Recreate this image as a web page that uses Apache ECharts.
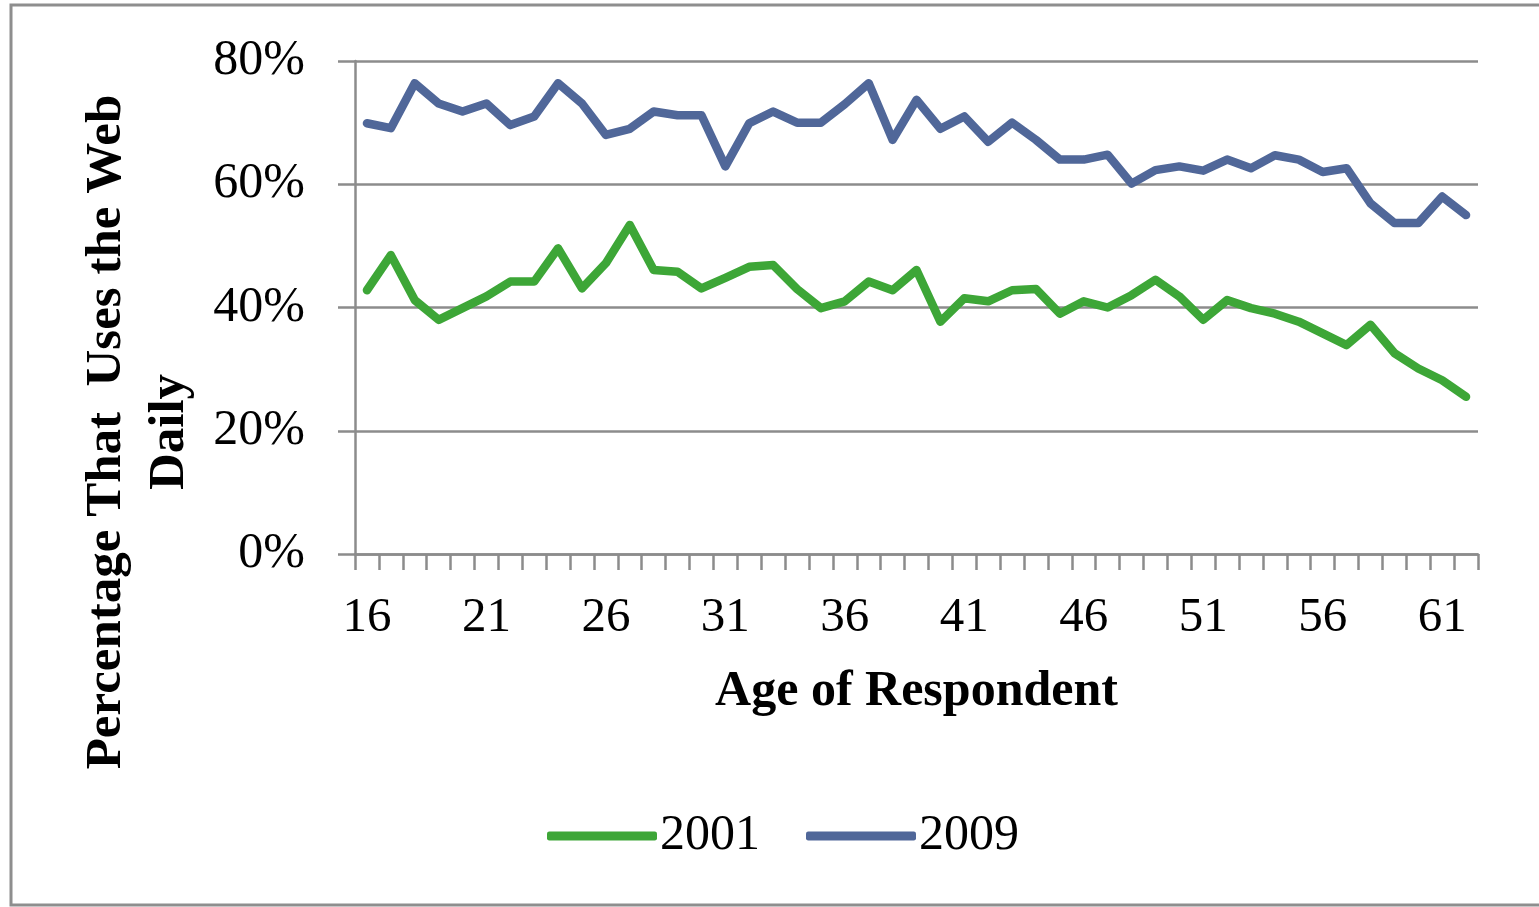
<!DOCTYPE html>
<html>
<head>
<meta charset="utf-8">
<script src="https://cdn.jsdelivr.net/npm/echarts@6/dist/echarts.min.js"></script>
<style>
    html, body { margin: 0; padding: 0; background: #fff; }
    #chart { width: 1539px; height: 907px; }
</style>
</head>
<body>
<div id="chart"></div>
<script>
// ages of respondents (x categories)
var ages = [];
for (var a = 16; a <= 62; a++) {
    ages.push(String(a));
}

// share that uses the web daily, in %
var data2001 = [42.8, 48.5, 41.2, 38, 39.9, 41.8, 44.2, 44.2, 49.6, 43.1,
    47.2, 53.4, 46.1, 45.8, 43.1, 44.8, 46.6, 46.9, 43, 39.9,
    41, 44.2, 42.8, 46.1, 37.7, 41.5, 41, 42.8, 43, 39,
    41, 40, 42, 44.5, 41.8, 38, 41.2, 39.9, 39, 37.7,
    35.8, 33.9, 37.2, 32.6, 30.1, 28.2, 25.5];

var data2009 = [69.9, 69.1, 76.4, 73.1, 71.8, 73.1, 69.6, 71, 76.4, 73.1,
    68, 69, 71.8, 71.2, 71.2, 62.9, 69.9, 71.8, 70, 70,
    73, 76.4, 67.2, 73.7, 69, 71, 66.9, 70, 67.2, 64,
    64, 64.8, 60.1, 62.3, 62.9, 62.2, 64, 62.6, 64.7, 64,
    62, 62.6, 56.9, 53.7, 53.7, 58, 55];

var yTicks = [0, 20, 40, 60, 80];

var font = '"Liberation Serif", "Times New Roman", serif';
var gray = '#8c8c8c';

var myChart = echarts.init(document.getElementById('chart'));

var option = {
    backgroundColor: '#fff',
    animation: false,
    color: ['#3da637', '#506799'],
    textStyle: {
        fontFamily: font,
        color: '#000'
    },
    grid: {
        left: 355,
        right: 61,
        top: 61,
        height: 493,
        containLabel: false
    },
    legend: {
        left: 542,
        top: 806,
        icon: 'roundRect',
        itemWidth: 110,
        itemHeight: 9,
        itemGap: 46,
        textStyle: {
            fontFamily: font,
            fontSize: 50,
            color: '#000',
            padding: [0, 0, 0, -2]
        },
        data: ['2001', '2009']
    },
    graphic: [{
        type: 'rect',
        shape: { x: 11, y: 5, width: 1540, height: 900 },
        style: { fill: 'none', stroke: '#8e8e8e', lineWidth: 3 },
        silent: true
    }, {
        type: 'text',
        x: 138,
        y: 432,
        rotation: Math.PI / 2,
        style: {
            text: 'Percentage That  Uses the Web\nDaily',
            font: 'bold 51px ' + font,
            fill: '#000',
            align: 'center',
            verticalAlign: 'middle',
            lineHeight: 63
        }
    }],
    xAxis: {
        type: 'category',
        boundaryGap: true,
        data: ages,
        name: 'Age of Respondent',
        nameLocation: 'middle',
        nameGap: 113,
        nameTextStyle: {
            fontFamily: font,
            fontSize: 50,
            fontWeight: 'bold',
            color: '#000'
        },
        axisLine: {
            lineStyle: { color: gray, width: 2.5 }
        },
        axisTick: {
            show: true,
            interval: 0,
            length: 16,
            lineStyle: { color: gray, width: 2.5 }
        },
        axisLabel: {
            interval: 4,
            margin: 40,
            fontFamily: font,
            fontSize: 49,
            color: '#000'
        },
        splitLine: { show: false }
    },
    yAxis: {
        type: 'value',
        min: yTicks[0],
        max: yTicks[yTicks.length - 1],
        interval: 20,
        axisLine: {
            show: true,
            lineStyle: { color: gray, width: 2.5 }
        },
        axisTick: {
            show: true,
            length: 17,
            lineStyle: { color: gray, width: 2.5 }
        },
        axisLabel: {
            margin: 50,
            fontFamily: font,
            fontSize: 50,
            color: '#000',
            formatter: '{value}%'
        },
        splitLine: {
            show: true,
            lineStyle: { color: gray, width: 2.5 }
        }
    },
    series: [{
        name: '2001',
        type: 'line',
        symbol: 'none',
        lineStyle: { width: 8.5, join: 'round', cap: 'round' },
        data: data2001
    }, {
        name: '2009',
        type: 'line',
        symbol: 'none',
        lineStyle: { width: 8.5, join: 'round', cap: 'round' },
        data: data2009
    }]
};

myChart.setOption(option);
</script>
</body>
</html>
